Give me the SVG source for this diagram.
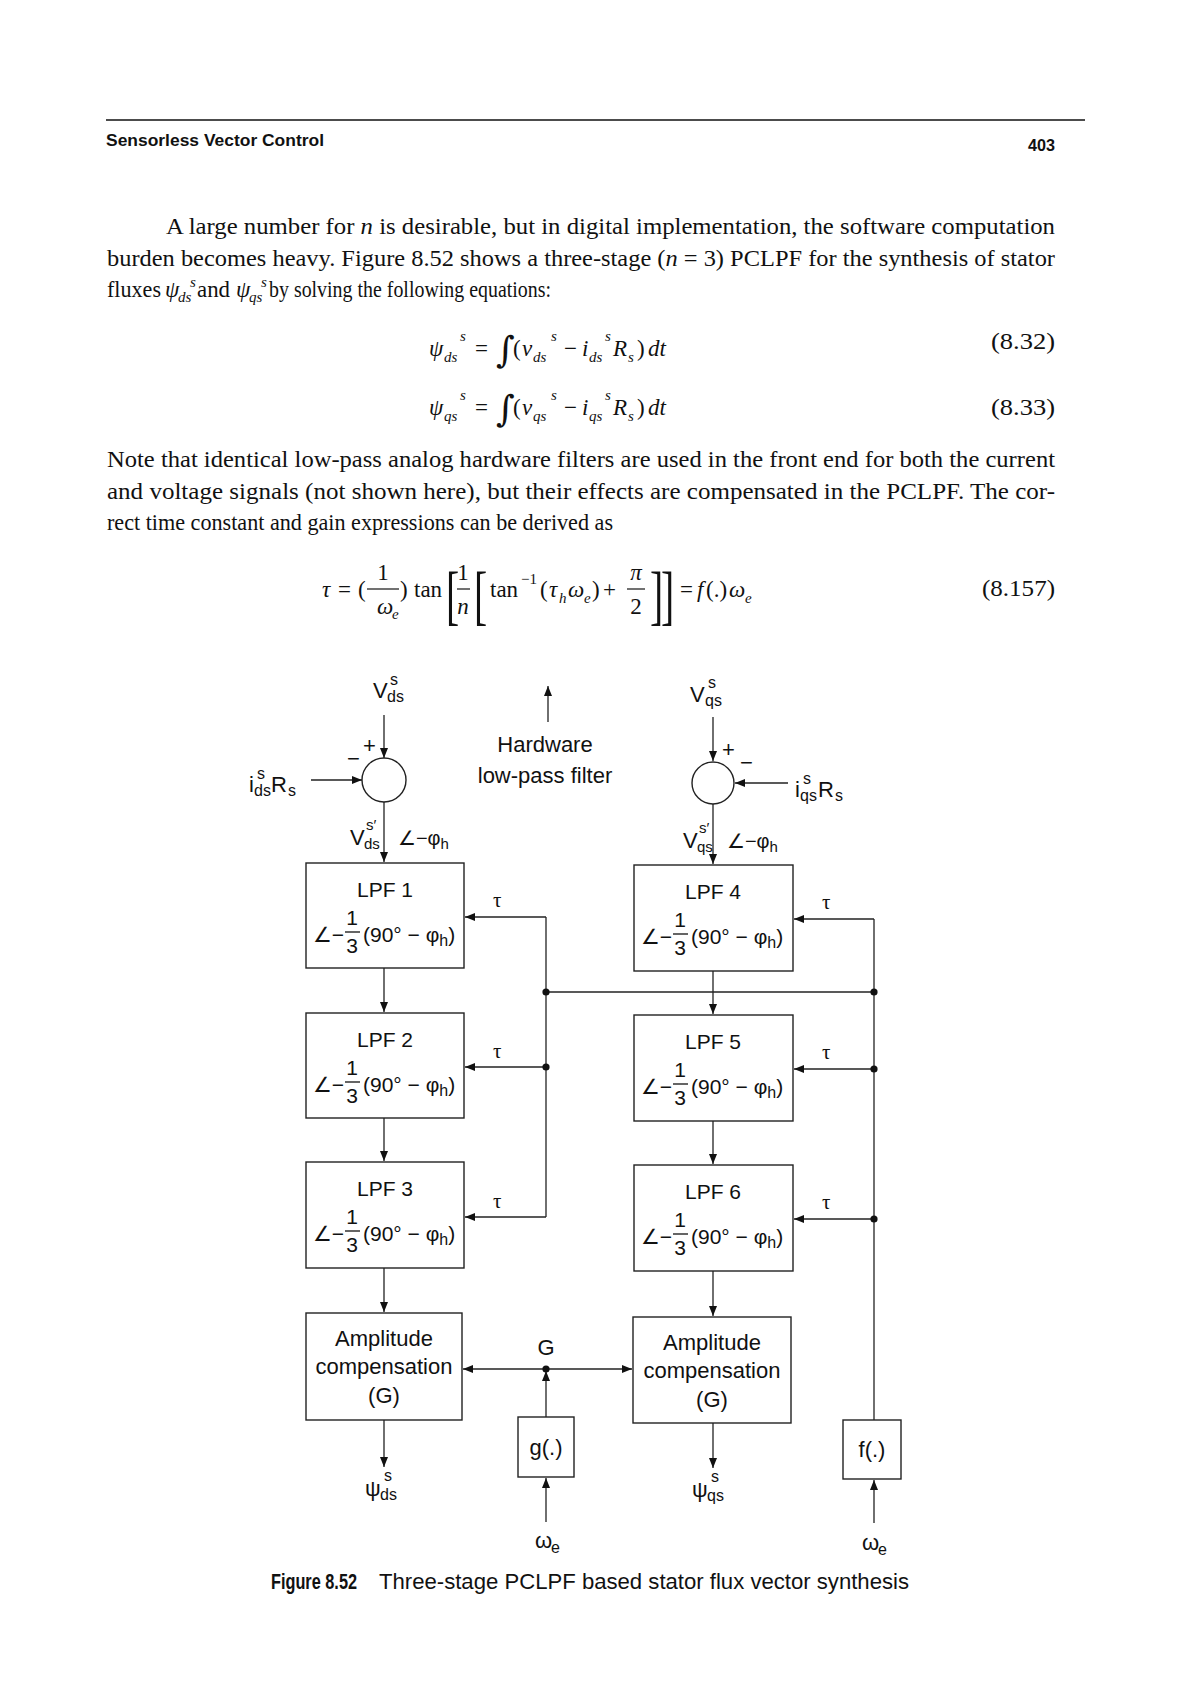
<svg xmlns="http://www.w3.org/2000/svg" width="1190" height="1684" viewBox="0 0 1190 1684">
<defs>
<marker id="ah" markerUnits="userSpaceOnUse" markerWidth="10" markerHeight="8" refX="10" refY="4" orient="auto">
<path d="M0,0 L10,4 L0,8 z" fill="#111"/>
</marker>
<style>
.sf{font-family:"Liberation Serif","Times New Roman",serif;font-size:23px;fill:#111}
.it{font-style:italic}
.hd{font-family:"Liberation Sans",Arial,sans-serif;font-weight:bold;font-size:17px;fill:#111}
.s{font-family:"Liberation Sans",Arial,"DejaVu Sans",sans-serif;font-size:22px;fill:#111}
.b{font-family:"Liberation Sans",Arial,"DejaVu Sans",sans-serif;font-size:21px;fill:#111}
.sm{font-family:"Liberation Sans",Arial,"DejaVu Sans",sans-serif;font-size:16px;fill:#111}
.ss{font-family:"Liberation Serif","Times New Roman",serif;font-size:15px;fill:#111}
.tau{font-family:"Liberation Serif","DejaVu Serif",serif;font-size:21px;fill:#111}
.box{fill:none;stroke:#222;stroke-width:1.4}
.ln{fill:none;stroke:#222;stroke-width:1.3}
.ar{fill:none;stroke:#222;stroke-width:1.3;marker-end:url(#ah)}
.dot{fill:#111}
.mid{text-anchor:middle}
</style>
</defs>

<!-- page header -->
<g id="header">
<line x1="106" y1="120" x2="1085" y2="120" stroke="#111" stroke-width="1.6"/>
<text class="hd" x="106" y="146" textLength="218" lengthAdjust="spacingAndGlyphs">Sensorless Vector Control</text>
<text class="hd" x="1028" y="151" textLength="27" lengthAdjust="spacingAndGlyphs">403</text>
</g>

<!-- paragraph 1 -->
<g id="para1">
<text class="sf" x="166" y="234" textLength="889" lengthAdjust="spacingAndGlyphs">A large number for <tspan class="it">n</tspan> is desirable, but in digital implementation, the software computation</text>
<text class="sf" x="107" y="266" textLength="948" lengthAdjust="spacingAndGlyphs">burden becomes heavy. Figure 8.52 shows a three-stage (<tspan class="it">n</tspan> = 3) PCLPF for the synthesis of stator</text>
<text class="sf" x="107" y="297" textLength="54" lengthAdjust="spacingAndGlyphs">fluxes</text>
<text class="sf it" x="165" y="297">ψ</text><text class="ss it" x="178" y="302">ds</text><text class="ss it" x="190" y="287">s</text>
<text class="sf" x="197" y="297" textLength="33" lengthAdjust="spacingAndGlyphs">and</text>
<text class="sf it" x="236" y="297">ψ</text><text class="ss it" x="249" y="302">qs</text><text class="ss it" x="261" y="287">s</text>
<text class="sf" x="269" y="297" textLength="282" lengthAdjust="spacingAndGlyphs">by solving the following equations:</text>
</g>

<!-- equation 8.32 -->
<g id="eq832">
<text class="sf it" x="429" y="356">ψ</text><text class="ss it" x="444" y="362">ds</text><text class="ss it" x="460" y="341">s</text>
<text class="sf" x="475" y="356">=</text>
<text class="sf" x="496" y="362" style="font-size:36px;font-family:'DejaVu Serif',serif">∫</text>
<text class="sf" x="513" y="356">(</text><text class="sf it" x="522" y="356">v</text><text class="ss it" x="533" y="362">ds</text><text class="ss it" x="551" y="341">s</text>
<text class="sf" x="564" y="356">−</text>
<text class="sf it" x="582" y="356">i</text><text class="ss it" x="589" y="362">ds</text><text class="ss it" x="605" y="341">s</text>
<text class="sf it" x="613" y="356">R</text><text class="ss it" x="628" y="362">s</text>
<text class="sf" x="637" y="356">)</text><text class="sf it" x="648" y="356">dt</text>
<text class="sf" x="991" y="349" textLength="64" lengthAdjust="spacingAndGlyphs">(8.32)</text>
</g>

<!-- equation 8.33 -->
<g id="eq833">
<text class="sf it" x="429" y="415">ψ</text><text class="ss it" x="444" y="421">qs</text><text class="ss it" x="460" y="400">s</text>
<text class="sf" x="475" y="415">=</text>
<text class="sf" x="496" y="421" style="font-size:36px;font-family:'DejaVu Serif',serif">∫</text>
<text class="sf" x="513" y="415">(</text><text class="sf it" x="522" y="415">v</text><text class="ss it" x="533" y="421">qs</text><text class="ss it" x="551" y="400">s</text>
<text class="sf" x="564" y="415">−</text>
<text class="sf it" x="582" y="415">i</text><text class="ss it" x="589" y="421">qs</text><text class="ss it" x="605" y="400">s</text>
<text class="sf it" x="613" y="415">R</text><text class="ss it" x="628" y="421">s</text>
<text class="sf" x="637" y="415">)</text><text class="sf it" x="648" y="415">dt</text>
<text class="sf" x="991" y="415" textLength="64" lengthAdjust="spacingAndGlyphs">(8.33)</text>
</g>

<!-- paragraph 2 -->
<g id="para2">
<text class="sf" x="107" y="467" textLength="948" lengthAdjust="spacingAndGlyphs">Note that identical low-pass analog hardware filters are used in the front end for both the current</text>
<text class="sf" x="107" y="499" textLength="948" lengthAdjust="spacingAndGlyphs">and voltage signals (not shown here), but their effects are compensated in the PCLPF. The cor-</text>
<text class="sf" x="107" y="530" textLength="506" lengthAdjust="spacingAndGlyphs">rect time constant and gain expressions can be derived as</text>
</g>

<!-- equation 8.157 -->
<g id="eq8157">
<text class="sf it" x="322" y="597">τ</text>
<text class="sf" x="338" y="597">=</text>
<text class="sf" x="358" y="597">(</text>
<text class="sf mid" x="383" y="580">1</text>
<line x1="367" y1="589" x2="399" y2="589" stroke="#111" stroke-width="1.2"/>
<text class="sf it" x="377" y="614">ω</text><text class="ss it" x="392" y="619">e</text>
<text class="sf" x="400" y="597">)</text>
<text class="sf" x="414" y="597">tan</text>
<text class="sf" x="446" y="617" style="font-size:66px" transform="translate(446,617) scale(0.6,1) translate(-446,-617)">[</text>
<text class="sf mid" x="463" y="580">1</text>
<line x1="457" y1="589" x2="470" y2="589" stroke="#111" stroke-width="1.2"/>
<text class="sf it mid" x="463" y="614">n</text>
<text class="sf" x="474" y="617" style="font-size:66px" transform="translate(474,617) scale(0.6,1) translate(-474,-617)">[</text>
<text class="sf" x="490" y="597">tan</text><text class="ss" x="521" y="584">−1</text>
<text class="sf" x="540" y="597">(</text><text class="sf it" x="549" y="597">τ</text><text class="ss it" x="559" y="603">h</text>
<text class="sf it" x="568" y="597">ω</text><text class="ss it" x="584" y="603">e</text><text class="sf" x="592" y="597">)</text>
<text class="sf" x="603" y="597">+</text>
<text class="sf it mid" x="636" y="580">π</text>
<line x1="627" y1="589" x2="645" y2="589" stroke="#111" stroke-width="1.2"/>
<text class="sf mid" x="636" y="614">2</text>
<text class="sf" x="650" y="617" style="font-size:66px" transform="translate(650,617) scale(0.6,1) translate(-650,-617)">]</text>
<text class="sf" x="661" y="617" style="font-size:66px" transform="translate(661,617) scale(0.6,1) translate(-661,-617)">]</text>
<text class="sf" x="680" y="597">=</text>
<text class="sf it" x="697" y="597">f</text><text class="sf" x="706" y="597">(.)</text>
<text class="sf it" x="729" y="597">ω</text><text class="ss it" x="745" y="603">e</text>
<text class="sf" x="982" y="596" textLength="73" lengthAdjust="spacingAndGlyphs">(8.157)</text>
</g>

<!-- connectors -->
<g id="connectors">
<line class="ar" x1="384" y1="715" x2="384" y2="758"/>
<line class="ar" x1="311" y1="780" x2="362" y2="780"/>
<line class="ar" x1="384" y1="802" x2="384" y2="862"/>
<line class="ar" x1="384" y1="968" x2="384" y2="1012"/>
<line class="ar" x1="384" y1="1118" x2="384" y2="1161"/>
<line class="ar" x1="384" y1="1268" x2="384" y2="1312"/>
<line class="ar" x1="384" y1="1420" x2="384" y2="1467"/>
<line class="ar" x1="548" y1="722" x2="548" y2="686"/>
<line class="ar" x1="713" y1="717" x2="713" y2="761"/>
<line class="ar" x1="788" y1="783" x2="735" y2="783"/>
<line class="ar" x1="713" y1="804" x2="713" y2="864"/>
<line class="ar" x1="713" y1="971" x2="713" y2="1014"/>
<line class="ar" x1="713" y1="1121" x2="713" y2="1164"/>
<line class="ar" x1="713" y1="1271" x2="713" y2="1316"/>
<line class="ar" x1="713" y1="1423" x2="713" y2="1468"/>
<line class="ln" x1="546" y1="917" x2="546" y2="1217"/>
<line class="ar" x1="546" y1="917" x2="465" y2="917"/>
<line class="ar" x1="546" y1="1067" x2="465" y2="1067"/>
<line class="ar" x1="546" y1="1217" x2="465" y2="1217"/>
<line class="ln" x1="546" y1="992" x2="874" y2="992"/>
<line class="ln" x1="874" y1="919" x2="874" y2="1420"/>
<line class="ar" x1="874" y1="919" x2="794" y2="919"/>
<line class="ar" x1="874" y1="1069" x2="794" y2="1069"/>
<line class="ar" x1="874" y1="1219" x2="794" y2="1219"/>
<line class="ar" x1="546" y1="1369" x2="463" y2="1369"/>
<line class="ar" x1="546" y1="1369" x2="632" y2="1369"/>
<line class="ar" x1="546" y1="1417" x2="546" y2="1371"/>
<line class="ar" x1="546" y1="1522" x2="546" y2="1478"/>
<line class="ar" x1="874" y1="1523" x2="874" y2="1480"/>
<circle class="dot" cx="546" cy="992" r="3.6"/>
<circle class="dot" cx="546" cy="1067" r="3.6"/>
<circle class="dot" cx="874" cy="992" r="3.6"/>
<circle class="dot" cx="874" cy="1069" r="3.6"/>
<circle class="dot" cx="874" cy="1219" r="3.6"/>
<circle class="dot" cx="546" cy="1369" r="3.6"/>
</g>

<!-- connector labels -->
<g id="labels">
<text class="s" x="373" y="698">V</text><text class="sm" x="387" y="702">ds</text><text class="sm" x="390" y="685">s</text>
<text class="s" x="363" y="753">+</text>
<text class="s" x="347" y="766">−</text>
<text class="s" x="249" y="792">i</text><text class="sm" x="254" y="796">ds</text><text class="sm" x="257" y="779">s</text><text class="s" x="271" y="792">R</text><text class="sm" x="288" y="796">s</text>
<text class="s" x="350" y="845">V</text><text class="sm" x="364" y="849" style="font-size:15px">ds</text><text class="sm" x="366" y="830" style="font-size:15px">s′</text>
<text class="s" x="398" y="845" style="font-size:20px">∠−φ<tspan dy="4" style="font-size:15px">h</tspan></text>
<text class="s mid" x="545" y="752">Hardware</text>
<text class="s mid" x="545" y="783">low-pass filter</text>
<text class="s" x="690" y="702">V</text><text class="sm" x="705" y="706">qs</text><text class="sm" x="708" y="688">s</text>
<text class="s" x="722" y="757">+</text>
<text class="s" x="740" y="770">−</text>
<text class="s" x="795" y="797">i</text><text class="sm" x="800" y="801">qs</text><text class="sm" x="803" y="784">s</text><text class="s" x="818" y="797">R</text><text class="sm" x="835" y="801">s</text>
<text class="s" x="683" y="848">V</text><text class="sm" x="697" y="852" style="font-size:15px">qs</text><text class="sm" x="699" y="833" style="font-size:15px">s′</text>
<text class="s" x="727" y="848" style="font-size:20px">∠−φ<tspan dy="4" style="font-size:15px">h</tspan></text>
<text class="tau" x="493" y="907">τ</text>
<text class="tau" x="493" y="1058">τ</text>
<text class="tau" x="493" y="1208">τ</text>
<text class="tau" x="822" y="909">τ</text>
<text class="tau" x="822" y="1059">τ</text>
<text class="tau" x="822" y="1209">τ</text>
<text class="s mid" x="546" y="1355">G</text>
<text class="s" x="365" y="1496">ψ</text><text class="sm" x="380" y="1500">ds</text><text class="sm" x="384" y="1481">s</text>
<text class="s" x="692" y="1497">ψ</text><text class="sm" x="707" y="1501">qs</text><text class="sm" x="711" y="1482">s</text>
<text class="s" x="535" y="1548">ω</text><text class="sm" x="551" y="1553">e</text>
<text class="s" x="862" y="1550">ω</text><text class="sm" x="878" y="1555">e</text>
</g>

<!-- summing junctions -->
<g id="sum1"><circle class="box" cx="384" cy="780" r="22"/></g>
<g id="sum2"><circle class="box" cx="713" cy="783" r="21"/></g>

<!-- LPF boxes -->
<g id="lpf1">
<rect class="box" x="306" y="863" width="158" height="105"/>
<text class="b mid" x="385" y="897">LPF 1</text>
<text class="b" x="313" y="942">∠−</text>
<text class="b mid" x="352" y="925">1</text><line x1="345" y1="932" x2="360" y2="932" stroke="#111" stroke-width="1.3"/><text class="b mid" x="352" y="953">3</text>
<text class="b" x="363" y="942">(90° − φ<tspan class="sm" dy="4">h</tspan><tspan dy="-4">)</tspan></text>
</g>
<g id="lpf2">
<rect class="box" x="306" y="1013" width="158" height="105"/>
<text class="b mid" x="385" y="1047">LPF 2</text>
<text class="b" x="313" y="1092">∠−</text>
<text class="b mid" x="352" y="1075">1</text><line x1="345" y1="1082" x2="360" y2="1082" stroke="#111" stroke-width="1.3"/><text class="b mid" x="352" y="1103">3</text>
<text class="b" x="363" y="1092">(90° − φ<tspan class="sm" dy="4">h</tspan><tspan dy="-4">)</tspan></text>
</g>
<g id="lpf3">
<rect class="box" x="306" y="1162" width="158" height="106"/>
<text class="b mid" x="385" y="1196">LPF 3</text>
<text class="b" x="313" y="1241">∠−</text>
<text class="b mid" x="352" y="1224">1</text><line x1="345" y1="1231" x2="360" y2="1231" stroke="#111" stroke-width="1.3"/><text class="b mid" x="352" y="1252">3</text>
<text class="b" x="363" y="1241">(90° − φ<tspan class="sm" dy="4">h</tspan><tspan dy="-4">)</tspan></text>
</g>
<g id="lpf4">
<rect class="box" x="634" y="865" width="159" height="106"/>
<text class="b mid" x="713" y="899">LPF 4</text>
<text class="b" x="641" y="944">∠−</text>
<text class="b mid" x="680" y="927">1</text><line x1="673" y1="934" x2="688" y2="934" stroke="#111" stroke-width="1.3"/><text class="b mid" x="680" y="955">3</text>
<text class="b" x="691" y="944">(90° − φ<tspan class="sm" dy="4">h</tspan><tspan dy="-4">)</tspan></text>
</g>
<g id="lpf5">
<rect class="box" x="634" y="1015" width="159" height="106"/>
<text class="b mid" x="713" y="1049">LPF 5</text>
<text class="b" x="641" y="1094">∠−</text>
<text class="b mid" x="680" y="1077">1</text><line x1="673" y1="1084" x2="688" y2="1084" stroke="#111" stroke-width="1.3"/><text class="b mid" x="680" y="1105">3</text>
<text class="b" x="691" y="1094">(90° − φ<tspan class="sm" dy="4">h</tspan><tspan dy="-4">)</tspan></text>
</g>
<g id="lpf6">
<rect class="box" x="634" y="1165" width="159" height="106"/>
<text class="b mid" x="713" y="1199">LPF 6</text>
<text class="b" x="641" y="1244">∠−</text>
<text class="b mid" x="680" y="1227">1</text><line x1="673" y1="1234" x2="688" y2="1234" stroke="#111" stroke-width="1.3"/><text class="b mid" x="680" y="1255">3</text>
<text class="b" x="691" y="1244">(90° − φ<tspan class="sm" dy="4">h</tspan><tspan dy="-4">)</tspan></text>
</g>

<!-- amplitude compensation -->
<g id="amp1">
<rect class="box" x="306" y="1313" width="156" height="107"/>
<text class="s mid" x="384" y="1346">Amplitude</text>
<text class="s mid" x="384" y="1374">compensation</text>
<text class="s mid" x="384" y="1403">(G)</text>
</g>
<g id="amp2">
<rect class="box" x="633" y="1317" width="158" height="106"/>
<text class="s mid" x="712" y="1350">Amplitude</text>
<text class="s mid" x="712" y="1378">compensation</text>
<text class="s mid" x="712" y="1407">(G)</text>
</g>

<!-- function blocks -->
<g id="gfun">
<rect class="box" x="518" y="1417" width="56" height="60"/>
<text class="s mid" x="546" y="1455">g(.)</text>
</g>
<g id="ffun">
<rect class="box" x="843" y="1420" width="58" height="59"/>
<text class="s mid" x="872" y="1457">f(.)</text>
</g>

<!-- caption -->
<g id="caption">
<text class="s" x="271" y="1589" style="font-weight:bold" textLength="86" lengthAdjust="spacingAndGlyphs">Figure 8.52</text>
<text class="s" x="379" y="1589" textLength="530" lengthAdjust="spacingAndGlyphs">Three-stage PCLPF based stator flux vector synthesis</text>
</g>
</svg>
